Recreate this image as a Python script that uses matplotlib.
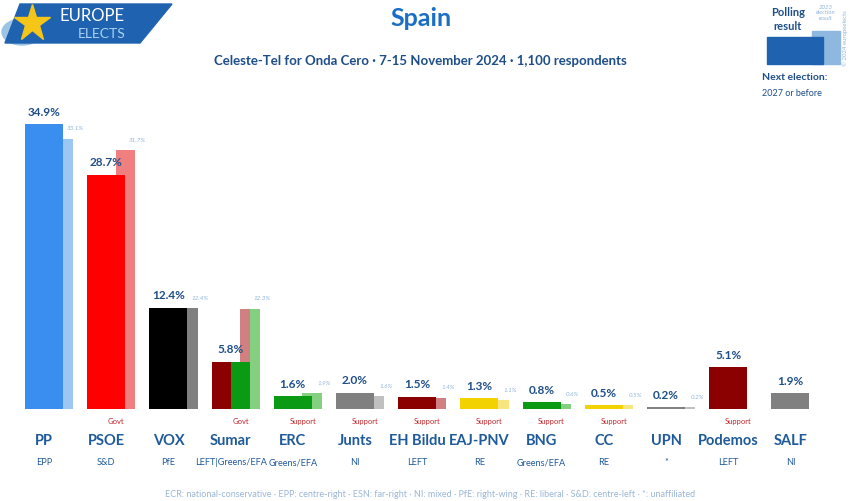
import numpy as np
import matplotlib.pyplot as plt
from matplotlib.patches import Polygon, Rectangle, Ellipse

plt.rcParams['font.family'] = ['Lato', 'DejaVu Sans']

# poll data
parties = ['PP', 'PSOE', 'VOX', 'Sumar', 'ERC', 'Junts', 'EH Bildu', 'EAJ-PNV',
           'BNG', 'CC', 'UPN', 'Podemos', 'SALF']
groups = ['EPP', 'S&D', 'PfE', 'LEFT|Greens/EFA', 'Greens/EFA', 'NI', 'LEFT', 'RE',
          'Greens/EFA', 'RE', '*', 'LEFT', 'NI']
poll = [34.9, 28.7, 12.4, 5.8, 1.6, 2.0, 1.5, 1.3, 0.8, 0.5, 0.2, 5.1, 1.9]
prev = [33.1, 31.7, 12.4, 12.3, 1.9, 1.6, 1.4, 1.1, 0.6, 0.5, 0.2, None, None]
status = ['', 'Govt', '', 'Govt', 'Support', 'Support', 'Support', 'Support',
          'Support', 'Support', '', 'Support', '']
colors = ['#3a8ef0', '#ff0000', '#000000', '#8b0000', '#0a9a14', '#808080', '#8b0000',
          '#f2d200', '#0a9a14', '#f2d200', '#808080', '#8b0000', '#808080']
prev_colors = ['#9cc7f2', '#f08080', '#808080', '#d08080', '#84d080', '#c0c0c0', '#d08080',
               '#f7e680', '#84d080', '#f7e680', '#c0c0c0', '#d08080', '#c0c0c0']
sumar_second = '#0a9a14'
sumar_second_prev = '#84d080'

W, H = 850, 502
fig = plt.figure(figsize=(8.5, 5.02), dpi=100)
fig.patch.set_facecolor('white')

def px(x, y):
    return (x / W, 1 - y / H)

# main axes: baseline at y=410px, 8.17 px per percent
base = 410
ppp = 8.17
step = 62.2
ax = fig.add_axes([0, (H - base) / H, 1, base / H])
ax.set_xlim(-44 / step, (W - 44) / step)
ax.set_ylim(0, base / ppp)
ax.axis('off')

x = np.arange(len(parties))
bw = 0.61
pw = 0.32
off = 0.31
dark = '#1d4e89'

for i in x:
    if prev[i] is not None:
        if parties[i] == 'Sumar':
            ax.bar(i + off - pw / 4, prev[i], pw / 2, color=prev_colors[i], zorder=1)
            ax.bar(i + off + pw / 4, prev[i], pw / 2, color=sumar_second_prev, zorder=1)
        else:
            ax.bar(i + off, prev[i], pw, color=prev_colors[i], zorder=1)
        ax.text(i + off + 0.19, prev[i] + 1.0, f'{prev[i]}%', ha='center', va='bottom',
                fontsize=4.5, color='#8fb4dc', style='italic')
    if parties[i] == 'Sumar':
        ax.bar(i - bw / 4, poll[i], bw / 2, color=colors[i], zorder=2)
        ax.bar(i + bw / 4, poll[i], bw / 2, color=sumar_second, zorder=2)
    else:
        ax.bar(i, poll[i], bw, color=colors[i], zorder=2)
    ax.text(i, poll[i] + 0.9, f'{poll[i]}%', ha='center', va='bottom',
            fontsize=8.5, fontweight='bold', color=dark)
    if status[i]:
        ax.text(i + 0.16, -1.0, status[i], ha='center', va='top',
                fontsize=5.5, color='#c0282d')
    ax.text(i, -2.9, parties[i], ha='center', va='top', fontsize=10.5,
            fontweight='bold', color='#1f5a9a')
    ax.text(i, -5.9, groups[i], ha='center', va='top', fontsize=6.6,
            color='#1f5a9a')
for t in ax.texts:
    t.set_clip_on(False)

# title and subtitle
fig.text(*px(421, 18), 'Spain', ha='center', va='center', fontsize=18,
         fontweight='bold', color='#1a6fc4')
fig.text(*px(420, 61), 'Celeste-Tel for Onda Cero · 7-15 November 2024 · 1,100 respondents',
         ha='center', va='center', fontsize=9.5, fontweight='bold', color=dark)

# logo
fig.patches.append(Ellipse(px(22, 33), 40 / W, 26 / H, transform=fig.transFigure,
                           color='#9cc4e4', zorder=1))
fig.patches.append(Polygon([px(20, 5), px(172, 5), px(140, 44), px(5, 44)],
                           closed=True, transform=fig.transFigure,
                           color='#1f62b0', zorder=2))
fig.add_artist(plt.Line2D([32 / W], [1 - 24 / H], marker='*', markersize=28,
                          color='#f5c518', transform=fig.transFigure, zorder=3))
fig.text(*px(92, 16), 'EUROPE', ha='center', va='center', fontsize=12,
         color='white', zorder=4)
fig.text(*px(102, 34), 'ELECTS', ha='center', va='center', fontsize=10,
         color='#aad0f2', zorder=4)

# legend top right
fig.patches.append(Rectangle(px(812, 65), 28 / W, 33 / H, transform=fig.transFigure,
                             color='#8fb8e0', zorder=1))
fig.patches.append(Rectangle(px(767, 65), 56 / W, 27 / H, transform=fig.transFigure,
                             color='#1f62b0', zorder=2))
fig.text(*px(788, 12), 'Polling', ha='center', va='center', fontsize=8,
         fontweight='bold', color=dark)
fig.text(*px(788, 26), 'result', ha='center', va='center', fontsize=8,
         fontweight='bold', color=dark)
fig.text(*px(826, 13), '2023\nelection\nresult', ha='center', va='center', fontsize=4.3,
         color='#8fb4dc', style='italic', linespacing=1.1)
fig.text(*px(845, 38), '© 2024 europeelects', ha='center', va='center', fontsize=4.3,
         color='#8fb4dc', rotation=90)
fig.text(*px(762, 77), 'Next election:', ha='left', va='center', fontsize=7.5,
         fontweight='bold', color=dark)
fig.text(*px(762, 93), '2027 or before', ha='left', va='center', fontsize=6.5,
         color=dark)

# footer
fig.text(*px(430, 495), 'ECR: national-conservative · EPP: centre-right · ESN: far-right · '
         'NI: mixed · PfE: right-wing · RE: liberal · S&D: centre-left · *: unaffiliated',
         ha='center', va='center', fontsize=6.5, color='#9ab6d6')

fig.savefig('out.png', dpi=100)
